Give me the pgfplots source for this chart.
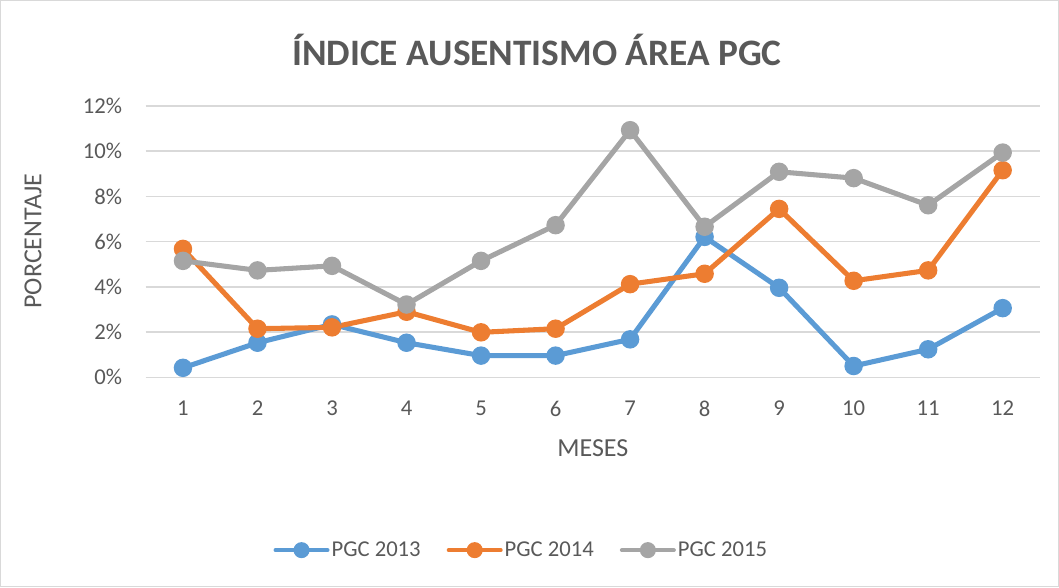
\documentclass[border=0pt]{standalone}
\usepackage{fontspec}
\setmainfont{Carlito}
\usepackage{pgfplots}
\pgfplotsset{compat=1.18}

\definecolor{c13}{HTML}{5B9BD5}
\definecolor{c14}{HTML}{ED7D31}
\definecolor{c15}{HTML}{A5A5A5}
\definecolor{gridc}{HTML}{D9D9D9}
\definecolor{txt}{HTML}{595959}

\begin{document}
\begin{tikzpicture}
\begin{axis}[
  scale only axis,
  width=670.7pt,
  height=203.5pt,
  xmin=0.5, xmax=12.5,
  ymin=0, ymax=12,
  xtick={1,...,12},
  ytick={0,2,...,12},
  yticklabel={\pgfmathprintnumber{\tick}\%},
  /pgf/number format/assume math mode=true,
  major tick length=0pt,
  axis line style={draw=none},
  ymajorgrids,
  grid style={gridc, line width=1.1pt},
  tick label style={font=\fontsize{17}{20}\selectfont, text=txt},
  yticklabel style={anchor=east, inner sep=0pt, xshift=-17.5pt},
  xticklabel style={anchor=north, inner sep=0pt, yshift=-17.5pt},
  xlabel={MESES},
  ylabel={PORCENTAJE},
  label style={font=\fontsize{19.5}{22}\selectfont, text=txt},
  xlabel style={at={(rel axis cs:0.5,-0.26)}, anchor=center},
  ylabel style={at={(rel axis cs:-0.126,0.502)}, anchor=center, rotate=0},
  clip=false,
  every axis plot/.append style={line width=3.8pt, mark=*, mark size=5pt},
  legend columns=3,
  legend style={
    at={(rel axis cs:0.42,-0.637)}, anchor=center,
    draw=none, fill=none,
    font=\fontsize{17}{20}\selectfont, text=txt,
    nodes={inner sep=1.5pt},
    /tikz/every even column/.append style={column sep=18pt},
  },
  legend image code/.code={
    \draw[#1, line width=3pt, mark size=4.5pt, mark repeat=2, mark phase=2]
      plot coordinates {(0pt,0pt) (19.5pt,0pt) (39pt,0pt)};
  },
]
\addplot[c13, line cap=round] coordinates {
  (1,0.42) (2,1.53) (3,2.34) (4,1.53) (5,0.96) (6,0.96)
  (7,1.68) (8,6.21) (9,3.96) (10,0.50) (11,1.24) (12,3.06)
};
\addlegendentry{PGC 2013}
\addplot[c14, line cap=round] coordinates {
  (1,5.68) (2,2.15) (3,2.21) (4,2.90) (5,1.99) (6,2.15)
  (7,4.12) (8,4.58) (9,7.45) (10,4.27) (11,4.73) (12,9.16)
};
\addlegendentry{PGC 2014}
\addplot[c15, line cap=round] coordinates {
  (1,5.15) (2,4.73) (3,4.93) (4,3.22) (5,5.15) (6,6.73)
  (7,10.93) (8,6.66) (9,9.09) (10,8.81) (11,7.61) (12,9.94)
};
\addlegendentry{PGC 2015}
\node[font=\bfseries\fontsize{28}{32}\selectfont, text=txt, anchor=center]
  at (rel axis cs:0.4375,1.206) {ÍNDICE AUSENTISMO ÁREA PGC};
\end{axis}
\draw[gridc, line width=0.8pt] (-108.9pt,-156.9pt) rectangle (684.6pt,282.6pt);
\useasboundingbox (-109.3pt,-157.3pt) rectangle (685pt,283pt);
\end{tikzpicture}
\end{document}
